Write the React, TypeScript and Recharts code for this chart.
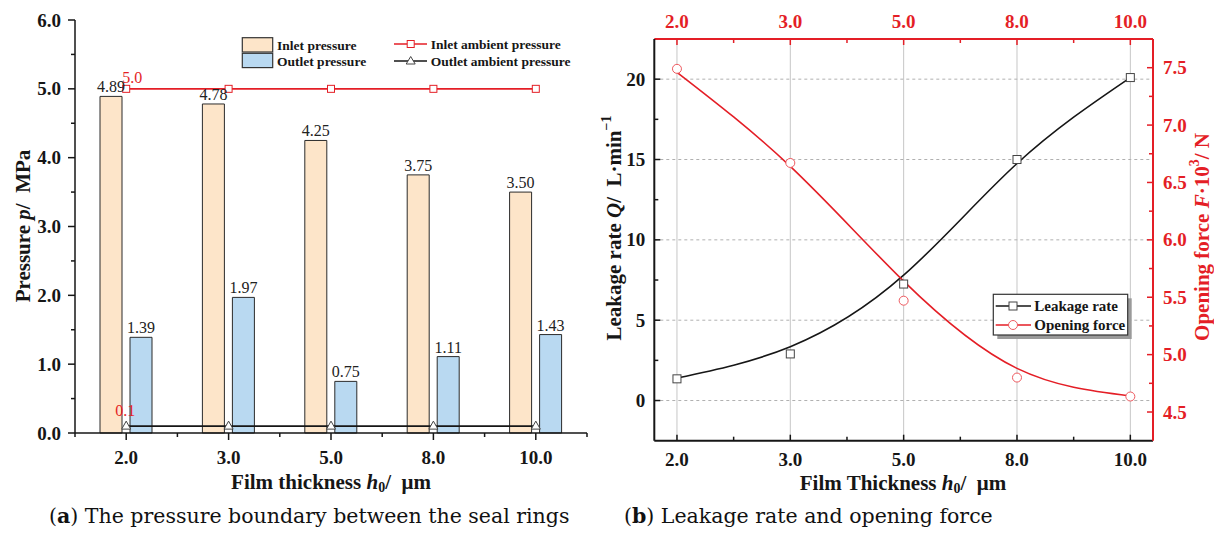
import React from 'react';
import {
  ComposedChart,
  Bar,
  Line,
  XAxis,
  YAxis,
  LabelList,
  ReferenceLine,
} from 'recharts';

// film thickness categories shared by both panels
const thickness = ['2.0', '3.0', '5.0', '8.0', '10.0'];

// (a) pressure boundary, MPa
const inletPressure = [4.89, 4.78, 4.25, 3.75, 3.5];
const outletPressure = [1.39, 1.97, 0.75, 1.11, 1.43];
const inletAmbient = [5.0, 5.0, 5.0, 5.0, 5.0];
const outletAmbient = [0.1, 0.1, 0.1, 0.1, 0.1];
const pressureTicks = [0, 0.5, 1, 1.5, 2, 2.5, 3, 3.5, 4, 4.5, 5, 5.5, 6];

// (b) leakage rate (L/min) and opening force (10^3 N)
const leakageRate = [1.35, 2.9, 7.25, 15.0, 20.1];
const leakageFit = [1.4, 3.35, 7.8, 14.75, 20.1];
const openingForce = [7.49, 6.67, 5.47, 4.8, 4.635];
const openingFit = [7.46, 6.64, 5.64, 4.88, 4.64];
const leakTicks = [0, 2.5, 5, 7.5, 10, 12.5, 15, 17.5, 20];
const leakGrid = [0, 5, 10, 15, 20];
const forceTicks = [4.5, 4.75, 5, 5.25, 5.5, 5.75, 6, 6.25, 6.5, 6.75, 7, 7.25, 7.5];
const slotTicks = [0, 0.5, 1, 1.5, 2, 2.5, 3, 3.5, 4];

const pressureData = thickness.map((h, i) => ({
  h,
  inlet: inletPressure[i],
  outlet: outletPressure[i],
  inAmb: inletAmbient[i],
  outAmb: outletAmbient[i],
}));

const leakData = thickness.map((h, i) => ({
  i,
  h,
  leak: leakageRate[i],
  leakFit: leakageFit[i],
  force: openingForce[i],
  forceFit: openingFit[i],
}));

const SERIF = "'Liberation Serif', 'Times New Roman', serif";
const RED = '#e41e26';
const INK = '#161616';
const PEACH = '#fde5c9';
const BLUE = '#b9d9f1';

type Side = 'left' | 'right' | 'top' | 'bottom';

type TickOpts = {
  side: Side;
  color: string;
  inward?: boolean;
  gap: number;
  isMajor: (v: any) => boolean;
  text: (v: any) => string;
  band?: number;
};

// draws tick mark + label ourselves so minor ticks and inward ticks work
function makeTick(o: TickOpts) {
  return (p: any) => {
    const { x, y, payload, index } = p;
    const v = payload.value;
    const major = o.isMajor(v);
    const len = major ? (o.inward ? 6 : 7) : 4;
    const s = o.inward ? -1 : 1;
    const lines: React.ReactNode[] = [];
    let label: React.ReactNode = null;
    const font = { fontFamily: SERIF, fontWeight: 700, fontSize: 19 };

    if (o.side === 'left') {
      lines.push(<line key='t' x1={x} x2={x - s * len} y1={y} y2={y} />);
      if (major)
        label = <text x={x - o.gap} y={y} textAnchor='end' dominantBaseline='central' fill={o.color} {...font}>{o.text(v)}</text>;
    } else if (o.side === 'right') {
      lines.push(<line key='t' x1={x} x2={x + s * len} y1={y} y2={y} />);
      if (major)
        label = <text x={x + o.gap} y={y} textAnchor='start' dominantBaseline='central' fill={o.color} {...font}>{o.text(v)}</text>;
    } else if (o.side === 'top') {
      lines.push(<line key='t' x1={x} x2={x} y1={y} y2={y - s * len} />);
      if (major)
        label = <text x={x} y={y - o.gap} textAnchor='middle' dominantBaseline='central' fill={o.color} {...font}>{o.text(v)}</text>;
    } else {
      lines.push(<line key='t' x1={x} x2={x} y1={y} y2={y + s * len} />);
      if (o.band) {
        const half = o.band / 2;
        lines.push(<line key='m1' x1={x + half} x2={x + half} y1={y} y2={y + s * 4} />);
        if (index === 0) lines.push(<line key='m0' x1={x - half} x2={x - half} y1={y} y2={y + s * 4} />);
      }
      if (major)
        label = <text x={x} y={y + o.gap} textAnchor='middle' dominantBaseline='central' fill={o.color} {...font}>{o.text(v)}</text>;
    }

    return (
      <g>
        <g stroke={o.color} strokeWidth={1.5}>{lines}</g>
        {label}
      </g>
    );
  };
}

const fmt1 = (v: any) => Number(v).toFixed(1);
const isInt = (v: any) => Math.abs(v - Math.round(v)) < 1e-6;

function squareDot(color: string, size: number) {
  return (p: any) => (
    <rect key={`s${p.index}`} x={p.cx - size / 2} y={p.cy - size / 2} width={size} height={size} fill='#fff' stroke={color} strokeWidth={1} />
  );
}

function triangleDot(color: string) {
  return (p: any) => (
    <polygon key={`t${p.index}`} points={`${p.cx},${p.cy - 5} ${p.cx - 4.5},${p.cy + 3} ${p.cx + 4.5},${p.cy + 3}`} fill='#fff' stroke={color} strokeWidth={1} />
  );
}

function circleDot(color: string) {
  return (p: any) => (
    <circle key={`c${p.index}`} cx={p.cx} cy={p.cy} r={4.5} fill='#fff' stroke={color} strokeWidth={1} />
  );
}

// only the first point of each ambient line gets a value label
function firstLabel(color: string, dx: number, dy: number) {
  return (p: any) =>
    p.index === 0 ? (
      <text x={Number(p.x) + dx} y={Number(p.y) + dy} textAnchor='middle' fill={color} fontFamily={SERIF} fontSize={16}>
        {fmt1(p.value)}
      </text>
    ) : null;
}

function PressureChart() {
  const axisLine = { stroke: INK, strokeWidth: 1.5 };

  return (
    <ComposedChart
      width={600}
      height={500}
      data={pressureData}
      margin={{ top: 20, right: 13, bottom: 37, left: 0 }}
      barSize={22}
      barGap={8}
    >
      <XAxis
        xAxisId='b'
        dataKey='h'
        height={30}
        interval={0}
        tickSize={0}
        tickMargin={0}
        tickLine={false}
        axisLine={axisLine}
        tick={makeTick({ side: 'bottom', color: INK, gap: 24, isMajor: () => true, text: (v) => v, band: 102.4 })}
      />
      <XAxis xAxisId='t' dataKey='h' orientation='top' height={0} tick={false} tickLine={false} axisLine={axisLine} />
      <YAxis
        yAxisId='l'
        width={75}
        domain={[0, 6]}
        ticks={pressureTicks}
        interval={0}
        tickSize={0}
        tickMargin={0}
        tickLine={false}
        axisLine={axisLine}
        tick={makeTick({ side: 'left', color: INK, gap: 14, isMajor: isInt, text: fmt1 })}
      />
      <YAxis yAxisId='r' orientation='right' width={0} domain={[0, 6]} tick={false} tickLine={false} axisLine={axisLine} />

      <Bar xAxisId='b' yAxisId='l' dataKey='inlet' fill={PEACH} stroke='#2b2b2b' strokeWidth={1} isAnimationActive={false}>
        <LabelList dataKey='inlet' position='top' offset={4} formatter={(v: any) => Number(v).toFixed(2)} fill='#222' fontFamily={SERIF} fontSize={16} />
      </Bar>
      <Bar xAxisId='b' yAxisId='l' dataKey='outlet' fill={BLUE} stroke='#2b2b2b' strokeWidth={1} isAnimationActive={false}>
        <LabelList dataKey='outlet' position='top' offset={4} formatter={(v: any) => Number(v).toFixed(2)} fill='#222' fontFamily={SERIF} fontSize={16} />
      </Bar>

      <Line xAxisId='b' yAxisId='l' dataKey='inAmb' type='linear' stroke={RED} strokeWidth={1.6} dot={squareDot(RED, 7)} isAnimationActive={false}>
        <LabelList dataKey='inAmb' content={firstLabel(RED, 6, -6)} />
      </Line>
      <Line xAxisId='b' yAxisId='l' dataKey='outAmb' type='linear' stroke={INK} strokeWidth={1.6} dot={triangleDot('#444')} isAnimationActive={false}>
        <LabelList dataKey='outAmb' content={firstLabel(RED, -1, -10)} />
      </Line>
    </ComposedChart>
  );
}

function LeakageChart() {
  const blackAxis = { stroke: INK, strokeWidth: 2 };
  const redAxis = { stroke: RED, strokeWidth: 2 };

  return (
    <ComposedChart
      width={614}
      height={500}
      data={leakData}
      margin={{ top: 0, right: 0, bottom: 0, left: 0 }}
    >
      <XAxis
        xAxisId='b'
        dataKey='i'
        type='number'
        domain={[-0.2, 4.2]}
        ticks={slotTicks}
        interval={0}
        height={59.3}
        tickSize={0}
        tickMargin={0}
        tickLine={false}
        axisLine={blackAxis}
        tick={makeTick({ side: 'bottom', color: INK, inward: true, gap: 19, isMajor: isInt, text: (v) => thickness[v] })}
      />
      <XAxis
        xAxisId='t'
        dataKey='i'
        type='number'
        orientation='top'
        domain={[-0.2, 4.2]}
        ticks={slotTicks}
        interval={0}
        height={39}
        tickSize={0}
        tickMargin={0}
        tickLine={false}
        axisLine={redAxis}
        tick={makeTick({ side: 'top', color: RED, inward: true, gap: 18, isMajor: isInt, text: (v) => thickness[v] })}
      />
      <YAxis
        yAxisId='l'
        width={54.3}
        domain={[-2.5, 22.5]}
        ticks={leakTicks}
        interval={0}
        tickSize={0}
        tickMargin={0}
        tickLine={false}
        axisLine={blackAxis}
        tick={makeTick({ side: 'left', color: INK, inward: true, gap: 9, isMajor: (v) => v % 5 === 0, text: (v) => String(v) })}
      />
      <YAxis
        yAxisId='r'
        orientation='right'
        width={61}
        domain={[4.25, 7.75]}
        ticks={forceTicks}
        interval={0}
        tickSize={0}
        tickMargin={0}
        tickLine={false}
        axisLine={redAxis}
        tick={makeTick({ side: 'right', color: RED, inward: true, gap: 10, isMajor: (v) => isInt(v * 2), text: fmt1 })}
      />

      {thickness.map((_, k) => (
        <ReferenceLine key={`v${k}`} xAxisId='b' yAxisId='l' x={k} stroke='#c6c6c6' strokeWidth={1} />
      ))}
      {leakGrid.map((v) => (
        <ReferenceLine key={`h${v}`} xAxisId='b' yAxisId='l' y={v} stroke='#b0b0b0' strokeWidth={1} strokeDasharray='3 3' />
      ))}

      <Line xAxisId='b' yAxisId='l' dataKey='leakFit' type='natural' stroke={INK} strokeWidth={1.6} dot={false} isAnimationActive={false} />
      <Line xAxisId='b' yAxisId='r' dataKey='forceFit' type='natural' stroke={RED} strokeWidth={1.6} dot={false} isAnimationActive={false} />
      <Line xAxisId='b' yAxisId='l' dataKey='leak' stroke='none' dot={squareDot('#444', 8)} isAnimationActive={false} />
      <Line xAxisId='b' yAxisId='r' dataKey='force' stroke='none' dot={circleDot('#ee5a60')} isAnimationActive={false} />
    </ComposedChart>
  );
}

function Overlay() {
  const title = { fontFamily: SERIF, fontWeight: 700, fontSize: 21, style: { whiteSpace: 'pre' as const } };
  const legendFont = { fontFamily: SERIF, fontWeight: 700 };
  const caption = { fontFamily: "'DejaVu Serif', serif", fontSize: 20.5, fill: '#111', style: { whiteSpace: 'pre' as const } };

  return (
    <svg width={1214} height={536} style={{ position: 'absolute', left: 0, top: 0, pointerEvents: 'none' }}>
      {/* (a) legend */}
      <rect x={242.3} y={37.7} width={30.4} height={14.3} fill={PEACH} stroke='#333' strokeWidth={1.2} />
      <rect x={242.3} y={53.3} width={30.4} height={14.3} fill={BLUE} stroke='#333' strokeWidth={1.2} />
      <text x={277} y={45} dominantBaseline='central' fontSize={13.5} fill={INK} {...legendFont}>Inlet pressure</text>
      <text x={277} y={61} dominantBaseline='central' fontSize={13.5} fill={INK} {...legendFont}>Outlet pressure</text>
      <line x1={394} x2={427} y1={44} y2={44} stroke={RED} strokeWidth={1.6} />
      <rect x={407.2} y={40.5} width={7} height={7} fill='#fff' stroke={RED} />
      <line x1={394} x2={427} y1={61} y2={61} stroke={INK} strokeWidth={1.6} />
      <polygon points='410.7,56.5 406.2,64 415.2,64' fill='#fff' stroke='#444' />
      <text x={430.7} y={44} dominantBaseline='central' fontSize={13.5} fill={INK} {...legendFont}>Inlet ambient pressure</text>
      <text x={430.7} y={61} dominantBaseline='central' fontSize={13.5} fill={INK} {...legendFont}>Outlet ambient pressure</text>

      {/* (a) axis titles */}
      <text x={23} y={226} transform='rotate(-90 23 226)' textAnchor='middle' dominantBaseline='central' fill={INK} {...title}>
        Pressure <tspan fontStyle='italic'>p</tspan>/  MPa
      </text>
      <text x={331} y={482} textAnchor='middle' dominantBaseline='central' fill={INK} {...title}>
        Film thickness <tspan fontStyle='italic'>h</tspan><tspan fontSize={14} dy={5}>0</tspan><tspan dy={-5}>/  μm</tspan>
      </text>

      {/* (b) legend */}
      <rect x={997.3} y={298.3} width={134.4} height={40.7} fill='#9a9a9a' />
      <rect x={993.3} y={294.3} width={134.4} height={40.7} fill='#fff' stroke='#333' strokeWidth={1.2} />
      <line x1={995.7} x2={1031} y1={306} y2={306} stroke={INK} strokeWidth={1.6} />
      <rect x={1009} y={302} width={8} height={8} fill='#fff' stroke='#444' />
      <line x1={995.7} x2={1031} y1={325} y2={325} stroke={RED} strokeWidth={1.6} />
      <circle cx={1013} cy={325} r={4.5} fill='#fff' stroke='#ee5a60' />
      <text x={1034.3} y={306} dominantBaseline='central' fontSize={15} fill={INK} {...legendFont}>Leakage rate</text>
      <text x={1034.3} y={325} dominantBaseline='central' fontSize={15} fill={INK} {...legendFont}>Opening force</text>

      {/* (b) axis titles */}
      <text x={614} y={228} transform='rotate(-90 614 228)' textAnchor='middle' dominantBaseline='central' fill={INK} {...title}>
        Leakage rate <tspan fontStyle='italic'>Q</tspan>/  L·min<tspan fontSize={14} dy={-8}>−1</tspan>
      </text>
      <text x={1202} y={237} transform='rotate(-90 1202 237)' textAnchor='middle' dominantBaseline='central' fill={RED} {...title}>
        Opening force <tspan fontStyle='italic'>F</tspan>·10<tspan fontSize={14} dy={-8}>3</tspan><tspan dy={8}>/ N</tspan>
      </text>
      <text x={903} y={483} textAnchor='middle' dominantBaseline='central' fill={INK} {...title}>
        Film Thickness <tspan fontStyle='italic'>h</tspan><tspan fontSize={14} dy={5}>0</tspan><tspan dy={-5}>/  μm</tspan>
      </text>

      {/* captions */}
      <text x={49} y={523} {...caption}>
        (<tspan fontWeight={700}>a</tspan>) The pressure boundary between the seal rings
      </text>
      <text x={624} y={523} {...caption}>
        (<tspan fontWeight={700}>b</tspan>) Leakage rate and opening force
      </text>
    </svg>
  );
}

export default function App() {
  return (
    <div style={{ position: 'absolute', left: 0, top: 0, width: 1214, height: 536, background: '#fff', overflow: 'hidden' }}>
      <div style={{ position: 'absolute', left: 0, top: 0 }}>
        <PressureChart />
      </div>
      <div style={{ position: 'absolute', left: 600, top: 0 }}>
        <LeakageChart />
      </div>
      <Overlay />
    </div>
  );
}
